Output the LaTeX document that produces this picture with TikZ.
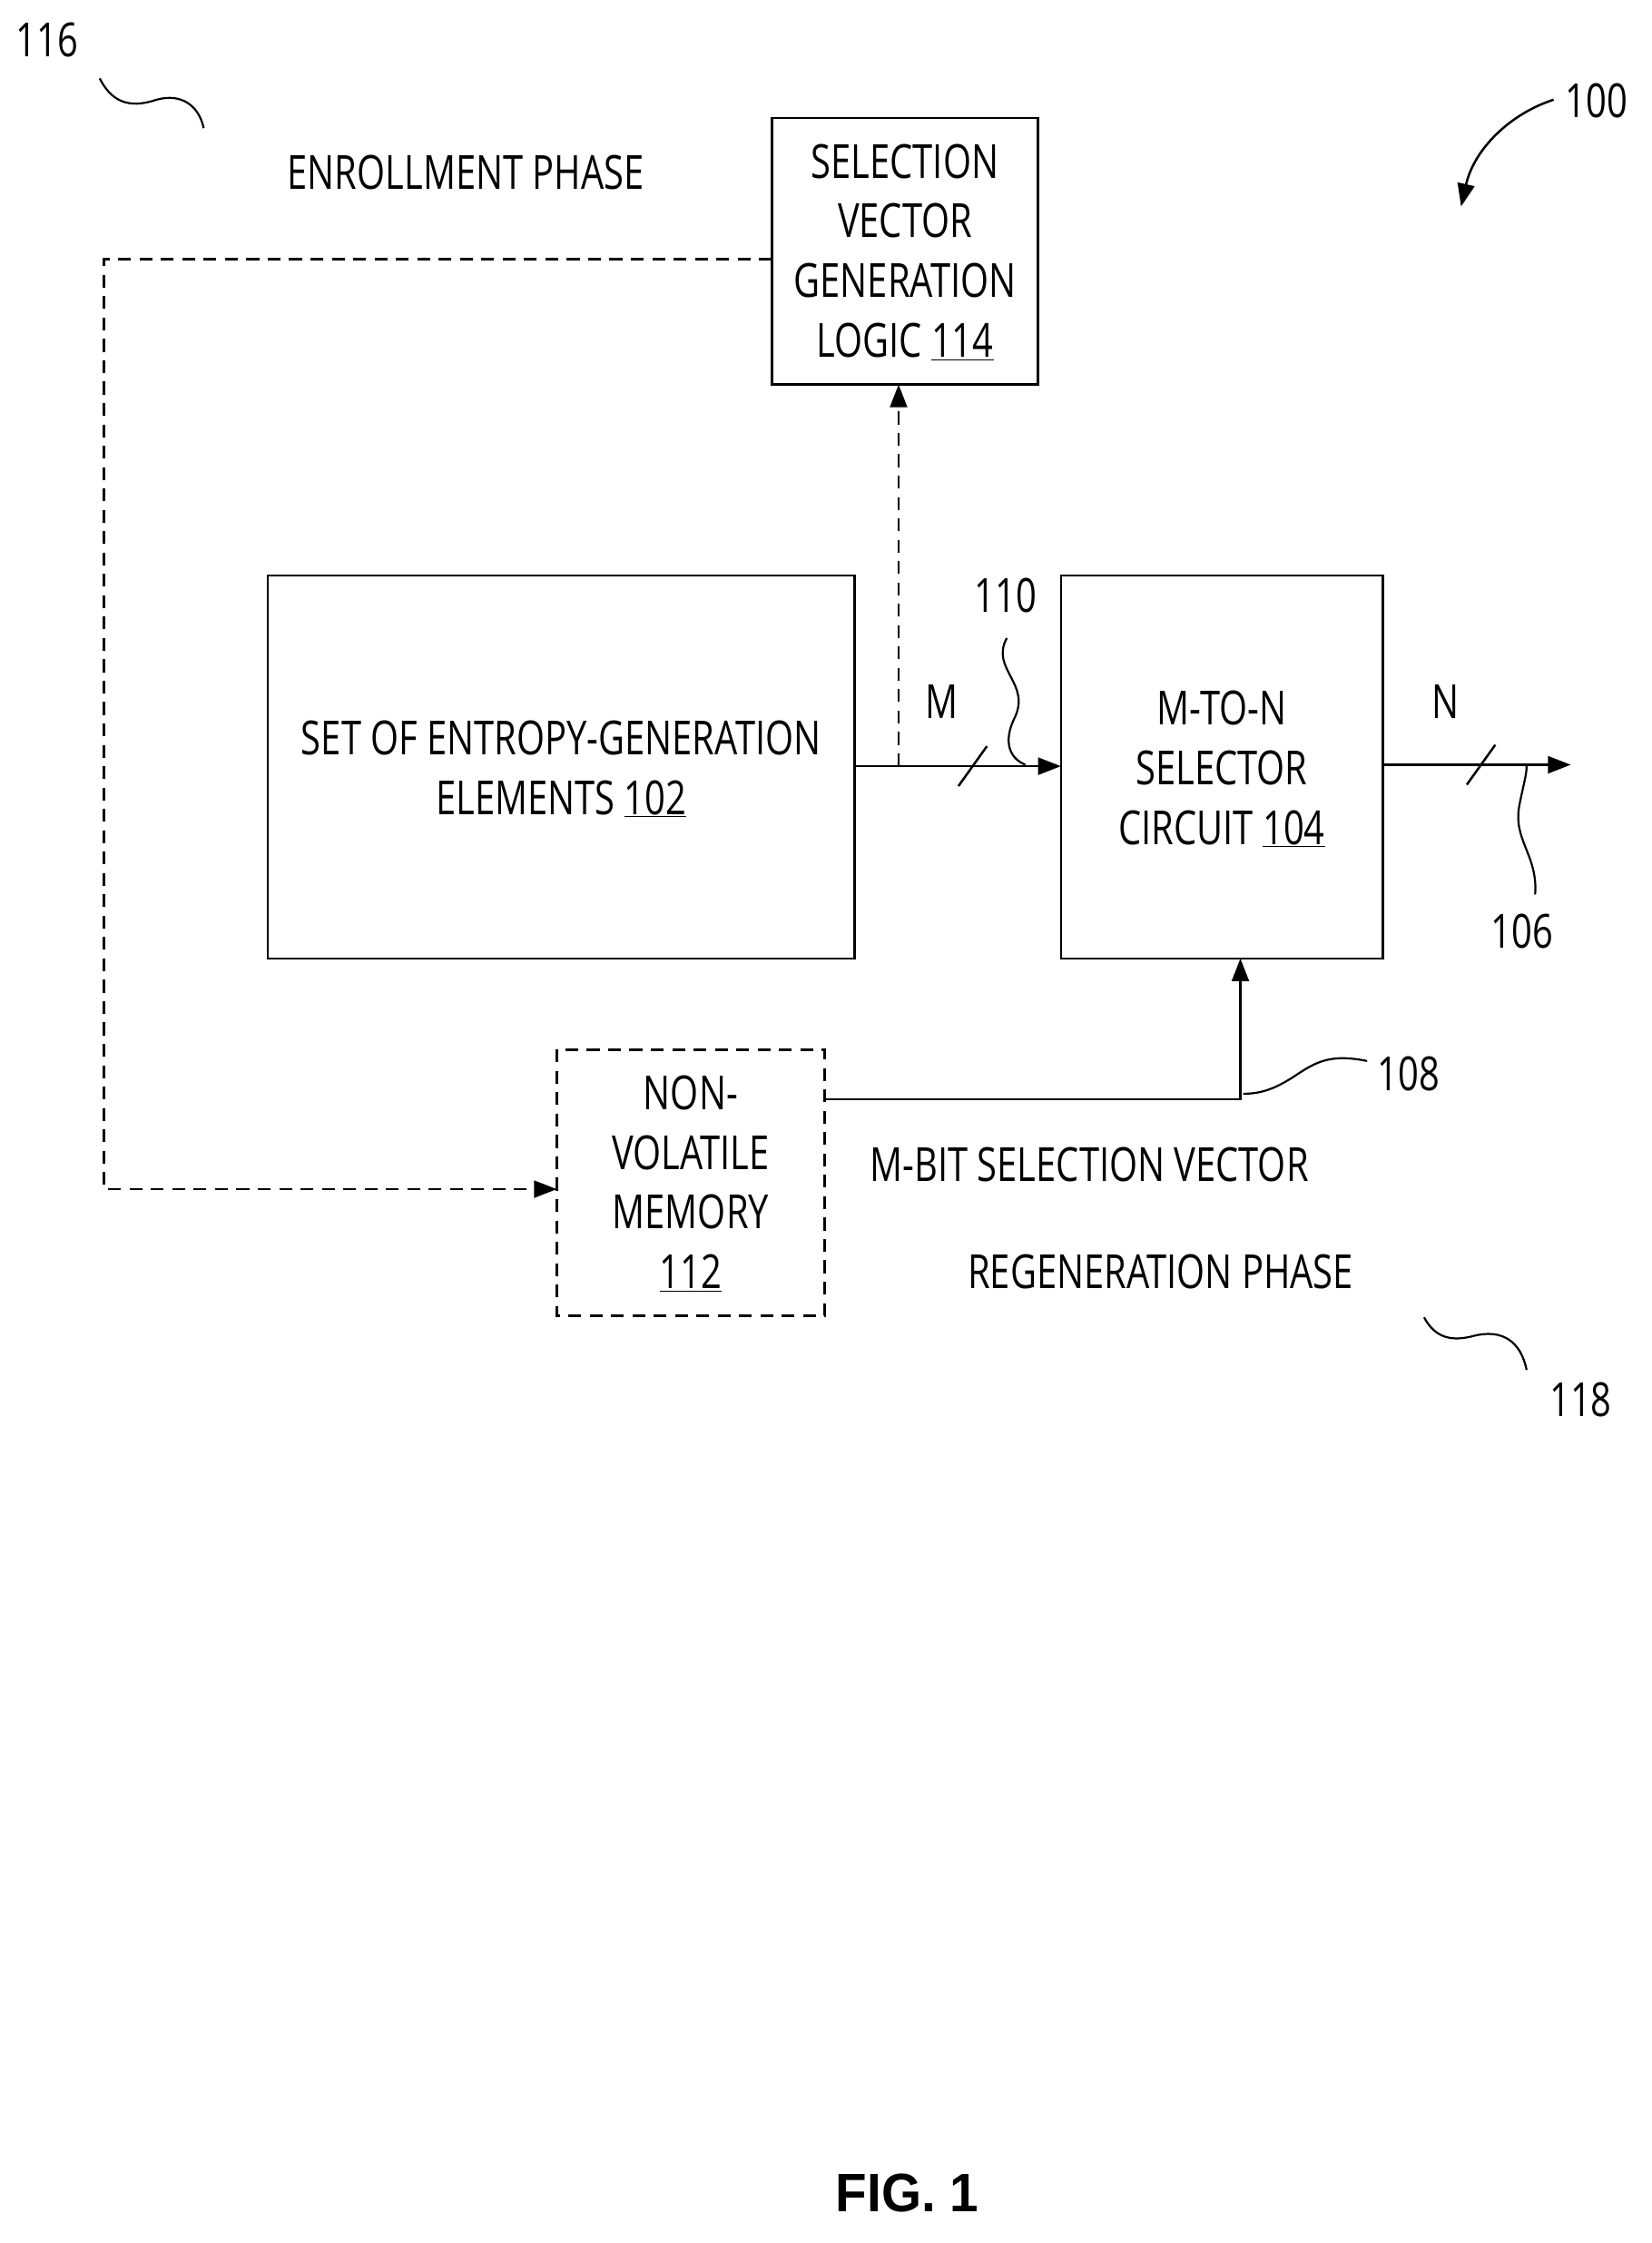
\documentclass[tikz,border=0pt]{standalone}
\usepackage{fontspec}
\setmainfont{Open Sans}[FakeStretch=0.77]
\newfontfamily\figfont{Liberation Sans}[FakeStretch=0.95]
\usetikzlibrary{arrows.meta}
\begin{document}
\begin{tikzpicture}[x=1pt,y=-1pt,
 box/.style={draw,line width=1.6pt,inner sep=0},
 lbl/.style={font=\fontsize{33}{42}\selectfont,align=center,inner sep=0},
 ln/.style={line width=1.6pt},
 dsh/.style={line width=1.6pt,dash pattern=on 9pt off 6pt},
 arr/.style={-{Triangle[length=16pt,width=12pt]}},
 sq/.style={line width=1.4pt}]
\useasboundingbox (0,0) rectangle (1160,1575);
\draw[box] (542,83) rectangle (729,270);
\node[lbl] (svg) at (635.5,177) {SELECTION\\VECTOR\\GENERATION\\LOGIC \underline{114}};
\coordinate (svgb) at (631,270);
\draw[box] (188,404) rectangle (600,673);
\node[lbl] (ent) at (394,540) {SET OF ENTROPY-GENERATION\\ELEMENTS \underline{102}};
\draw[box] (745,404) rectangle (971,673);
\node[lbl] (sel) at (858,540) {M-TO-N\\SELECTOR\\CIRCUIT \underline{104}};
\draw[box,dash pattern=on 9pt off 6pt] (391,737) rectangle (579,924);
\node[lbl] (nvm) at (485,831) {NON-\\VOLATILE\\MEMORY\\\underline{112}};
\coordinate (eo) at (600,538); \coordinate (si) at (745,538);
\coordinate (br) at (631,538);
\draw[ln,arr] (eo) -- (si);
\draw[ln] (673,552) -- (693,524);
\node[lbl] (m) at (661,493) {M};
\draw[dsh,arr] (br) -- (svgb);
\coordinate (c1) at (73,182); \coordinate (c2) at (73,835);
\draw[dsh,arr] (542,182) -- (c1) -- (c2) -- (391,835);
\coordinate (nr) at (579,772); \coordinate (c3) at (871,772);
\draw[ln,arr] (nr) -- (c3) -- (871,673);
\coordinate (out) at (1103,537);
\draw[ln,arr] (971,537) -- (out);
\draw[ln] (1030,551) -- (1050,523);
\node[lbl] (n) at (1015,493) {N};
\node[lbl] (l110) at (706,418) {110};
\draw[sq] (707,448) .. controls (695,470) and (725,480) .. (712,505) .. controls (705,520) and (708,532) .. (720,537);
\node[lbl] (l106) at (1069,654) {106};
\draw[sq] (1078,628) .. controls (1080,600) and (1062,590) .. (1067,565) .. controls (1070,550) and (1072,544) .. (1072,538);
\node[lbl] (l108) at (989,754) {108};
\draw[sq] (960,745) .. controls (935,740) and (925,745) .. (910,755) .. controls (895,765) and (885,768) .. (873,768);
\node[lbl] (l100) at (1121,71) {100};
\draw[ln,arr] (1091,70) .. controls (1060,80) and (1035,105) .. (1026,145);
\node[lbl] (l116) at (33,28) {116};
\draw[sq] (70,55) .. controls (80,75) and (95,75) .. (110,70) .. controls (128,65) and (140,75) .. (143,90);
\node[lbl] (l118) at (1110,983) {118};
\draw[sq] (1000,925) .. controls (1008,940) and (1020,942) .. (1035,938) .. controls (1055,933) and (1068,942) .. (1072,962);
\node[lbl] (ep) at (327,121) {ENROLLMENT PHASE};
\node[lbl] (mb) at (765,818) {M-BIT SELECTION VECTOR};
\node[lbl] (rp) at (815,893) {REGENERATION PHASE};
\node[inner sep=0,font=\figfont\bfseries\fontsize{38}{40}\selectfont] (fig) at (637,1540) {FIG. 1};
\end{tikzpicture}
\end{document}
